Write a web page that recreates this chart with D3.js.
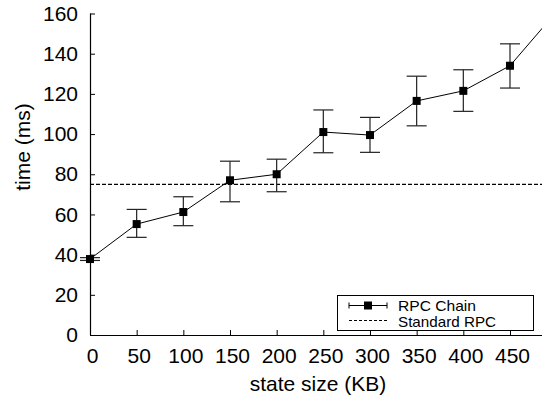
<html>
    <head>
        <script src="https://cdnjs.cloudflare.com/ajax/libs/d3/7.8.5/d3.min.js"></script>
        <style>
            body { margin: 0; background: #fff; }
            svg { display: block; font-family: "Liberation Sans", Arial, sans-serif; }
        </style>
    </head>
    <body>
        <svg width="542" height="400"></svg>
        <script>
            // values
            const stateSizes = [0, 50, 100, 150, 200, 250, 300, 350, 400, 450, 500]
            const chainTime = [37.8, 55.2, 61.2, 77, 80, 101, 99.5, 116.5, 121.5, 134, 161]
            const chainLow = [37.1, 48.6, 54.4, 66.3, 71.3, 90.7, 90.9, 104.1, 111.3, 122.9, 150]
            const chainHigh = [38.5, 62.5, 68.8, 86.5, 87.5, 112, 108.3, 128.8, 132, 144.9, 172]
            const standardRpc = 75
            const xTicks = [0, 50, 100, 150, 200, 250, 300, 350, 400, 450]
            const yTicks = [0, 20, 40, 60, 80, 100, 120, 140, 160]
            const seriesNames = ['RPC Chain', 'Standard RPC']

            const svg = d3.select('svg')
            const plotLeft = 90, plotRight = 542, plotTop = 13.5, plotBottom = 335
            const x = d3.scaleLinear().domain([0, 484.3]).range([plotLeft, plotRight])
            const y = d3.scaleLinear().domain([0, 160]).range([plotBottom, plotTop])

            const d = stateSizes.map((s, i) => ({ s, t: chainTime[i], lo: chainLow[i], hi: chainHigh[i] }))

            // axes (gnuplot style: ticks inside, left + bottom border)
            const yAxis = d3.axisLeft(y).tickValues(yTicks).tickSize(-5).tickPadding(12)
            const gy = svg.append('g').attr('transform', `translate(${plotLeft},0)`).call(yAxis)
            const xAxis = d3.axisBottom(x).tickValues(xTicks).tickSize(-5).tickPadding(13)
            const gx = svg.append('g').attr('transform', `translate(0,${plotBottom})`).call(xAxis)
            ;[gx, gy].forEach(g => {
                g.select('.domain').attr('stroke', '#000').attr('stroke-width', 1.2)
                g.selectAll('.tick line').attr('stroke', '#000')
                g.selectAll('.tick text').attr('fill', '#000').attr('font-size', 21)
                    .attr('font-family', '"Liberation Sans", Arial, sans-serif')
            })
            gx.select('.domain').attr('d', `M${plotLeft},0.5H${plotRight}`)
            gy.select('.domain').attr('d', `M0.5,${plotBottom}V${plotTop}`)
            gx.selectAll('.tick text').attr('dx', 2)

            svg.append('text').attr('x', 318).attr('y', 391).attr('text-anchor', 'middle')
                .attr('font-size', 21).text('state size (KB)')
            svg.append('text').attr('transform', 'translate(30,147) rotate(-90)').attr('text-anchor', 'middle')
                .attr('font-size', 21).text('time (ms)')

            // standard RPC dashed line
            svg.append('line').attr('x1', plotLeft).attr('x2', plotRight)
                .attr('y1', y(standardRpc)).attr('y2', y(standardRpc))
                .attr('stroke', '#000').attr('stroke-width', 1.3).attr('stroke-dasharray', '4,2')

            // error bars
            const eb = svg.append('g').attr('stroke', '#222').attr('stroke-width', 1.2)
            eb.selectAll('line.v').data(d).enter().append('line')
                .attr('x1', p => x(p.s)).attr('x2', p => x(p.s))
                .attr('y1', p => y(p.lo)).attr('y2', p => y(p.hi))
            ;['lo', 'hi'].forEach(k => {
                eb.selectAll('line.' + k).data(d).enter().append('line')
                    .attr('x1', p => x(p.s) - 10).attr('x2', p => x(p.s) + 10)
                    .attr('y1', p => y(p[k])).attr('y2', p => y(p[k]))
            })

            // series line + markers
            const line = d3.line().x(p => x(p.s)).y(p => y(p.t))
            svg.append('path').datum(d).attr('d', line).attr('fill', 'none').attr('stroke', '#000').attr('stroke-width', 1)
            svg.append('g').selectAll('rect').data(d).enter().append('rect')
                .attr('x', p => x(p.s) - 4).attr('y', p => y(p.t) - 4)
                .attr('width', 8).attr('height', 8).attr('fill', '#000')

            // legend
            const lg = svg.append('g')
            lg.append('rect').attr('x', 337.5).attr('y', 295.5).attr('width', 196).attr('height', 35)
                .attr('fill', '#fff').attr('stroke', '#000').attr('stroke-width', 1)
            lg.append('line').attr('x1', 349).attr('x2', 387).attr('y1', 305.5).attr('y2', 305.5).attr('stroke', '#000')
            ;[349, 387].forEach(cx => lg.append('line').attr('x1', cx).attr('x2', cx).attr('y1', 302.5).attr('y2', 308.5).attr('stroke', '#000'))
            lg.append('rect').attr('x', 364).attr('y', 301.5).attr('width', 8).attr('height', 8).attr('fill', '#000')
            lg.append('line').attr('x1', 349).attr('x2', 387).attr('y1', 320.5).attr('y2', 320.5)
                .attr('stroke', '#000').attr('stroke-dasharray', '3,2')
            const legendWidths = [78, 98]
            seriesNames.forEach((n, i) => lg.append('text').attr('x', 398).attr('y', 311 + i * 16)
                .attr('font-size', 14.5).attr('textLength', legendWidths[i])
                .attr('lengthAdjust', 'spacingAndGlyphs').text(n))
        </script>
    </body>
</html>
